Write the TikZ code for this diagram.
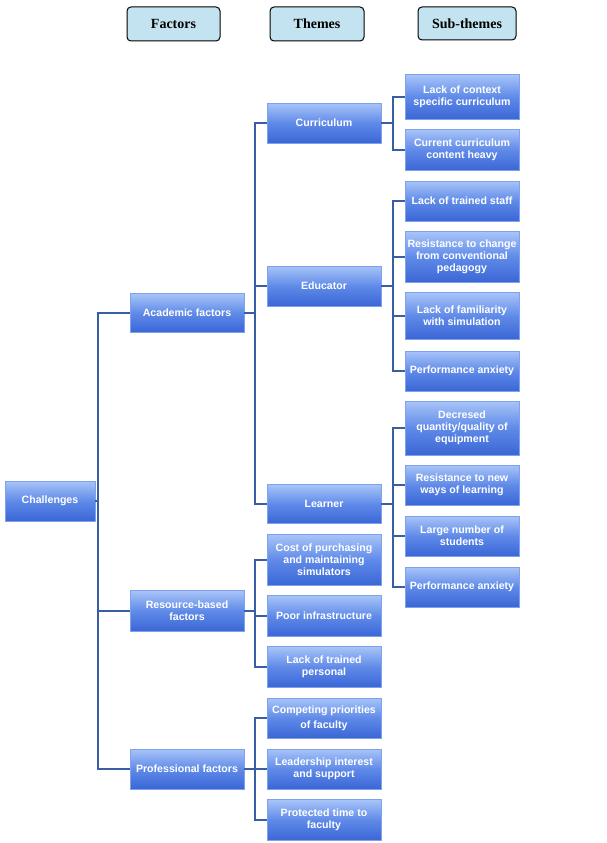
\documentclass[tikz,border=0pt]{standalone}
\usepackage{fontspec}
\setmainfont{Liberation Sans}
\newfontfamily\serifb{Liberation Serif}
\definecolor{btop}{HTML}{A8C4F8}
\definecolor{bmid}{HTML}{5F8AE8}
\definecolor{bbot}{HTML}{3A66D6}
\definecolor{bedge}{HTML}{7FA2EE}
\definecolor{lnc}{HTML}{3A5EA6}
\definecolor{hfill}{HTML}{C3E3F0}
\begin{document}
\begin{tikzpicture}[x=1pt,y=-1pt,
  box/.style={shade,top color=btop,bottom color=bbot,middle color=bmid,draw=bedge,line width=0.8pt,text=white,
    font=\fontsize{10.6}{11.8}\selectfont\bfseries,align=center,inner sep=1pt,minimum width=114pt},
  hdr/.style={draw=black,line width=1pt,rounded corners=4pt,fill=hfill,
    font=\serifb\fontsize{14}{16}\selectfont\bfseries,minimum height=34pt,inner sep=0pt},
  ln/.style={draw=lnc,line width=2pt}]
\useasboundingbox (0,0) rectangle (607,843);
\node[hdr,minimum width=93pt] (h1) at (173.5,24) {Factors};
\node[hdr,minimum width=94pt] (h2) at (317,24) {Themes};
\node[hdr,minimum width=98pt,minimum height=33pt] (h3) at (467,23.5) {Sub-themes};
% root and factors
\node[box,minimum width=90pt,minimum height=40pt] (ch) at (50,501) {Challenges};
\node[box,minimum height=39pt] (ac) at (187,313) {Academic factors};
\node[box,minimum height=41pt] (rs) at (187,611) {Resource-based\\factors};
\node[box,minimum height=40pt] (pf) at (187,769) {Professional factors};
% themes
\node[box,minimum height=40pt] (cu) at (324,123) {Curriculum};
\node[box,minimum height=40pt] (ed) at (324,286) {Educator};
\node[box,minimum height=39pt] (le) at (324,504) {Learner};
\node[box,minimum height=51pt] (co) at (324,560) {Cost of purchasing\\and maintaining\\simulators};
\node[box,minimum height=41pt] (po) at (324,616) {Poor infrastructure};
\node[box,minimum height=41pt] (lp) at (324,667) {Lack of trained\\personal};
\node[box,minimum height=40pt] (cp) at (324,718) {Competing priorities\\[3pt]of faculty};
\node[box,minimum height=40pt] (ls) at (324,769) {Leadership interest\\and support};
\node[box,minimum height=41pt] (pt) at (324,820) {Protected time to\\faculty};
% sub-themes
\node[box,minimum height=45pt] (s1) at (462,97) {Lack of context\\specific curriculum};
\node[box,minimum height=41pt] (s2) at (462,150) {Current curriculum\\content heavy};
\node[box,minimum height=40pt] (s3) at (462,201) {Lack of trained staff};
\node[box,minimum height=51pt] (s4) at (462,257) {Resistance to change\\from conventional\\pedagogy};
\node[box,minimum height=47pt] (s5) at (462,316) {Lack of familiarity\\with simulation};
\node[box,minimum height=40pt] (s6) at (462,371) {Performance anxiety};
\node[box,minimum height=54pt] (s7) at (462,428) {Decresed\\quantity/quality of\\equipment};
\node[box,minimum height=40pt] (s8) at (462,485) {Resistance to new\\ways of learning};
\node[box,minimum height=40pt] (s9) at (462,536) {Large number of\\students};
\node[box,minimum height=40pt] (s10) at (462,587) {Performance anxiety};
% connectors
\foreach \c in {ac,rs,pf} \draw[ln] (ch.east) -- ++(3,0) |- (\c.west);
\foreach \c in {cu,ed,le} \draw[ln] (ac.east) -- ++(11,0) |- (\c.west);
\foreach \c in {co,po,lp} \draw[ln] (rs.east) -- ++(11,0) |- (\c.west);
\foreach \c in {cp,ls,pt} \draw[ln] (pf.east) -- ++(11,0) |- (\c.west);
\foreach \c in {s1,s2} \draw[ln] (cu.east) -- ++(12,0) |- (\c.west);
\foreach \c in {s3,s4,s5,s6} \draw[ln] (ed.east) -- ++(12,0) |- (\c.west);
\foreach \c in {s7,s8,s9,s10} \draw[ln] (le.east) -- ++(12,0) |- (\c.west);
\end{tikzpicture}
\end{document}
